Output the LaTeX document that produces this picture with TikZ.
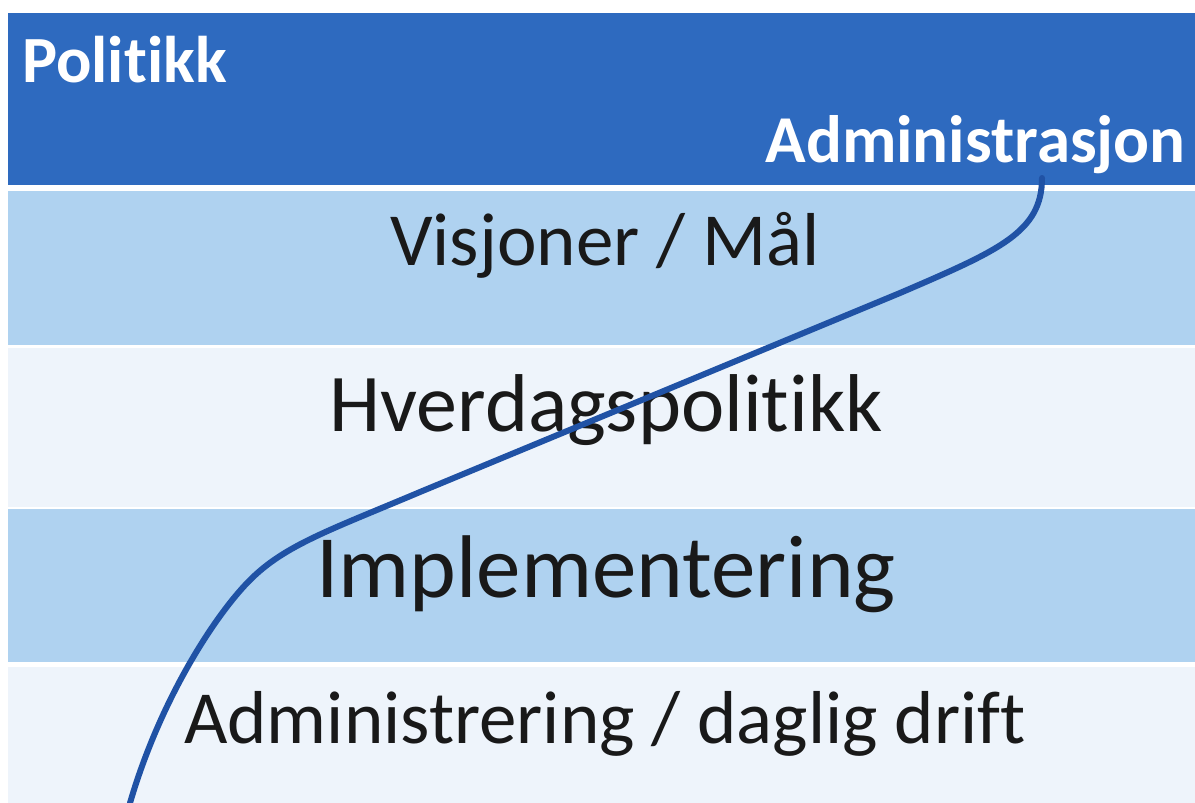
\documentclass[tikz,border=0pt]{standalone}
\usepackage{fontspec}
\setmainfont{Carlito}[Ligatures=NoCommon]
\usetikzlibrary{positioning}

\definecolor{topblue}{RGB}{46,106,191}
\definecolor{midblue}{RGB}{175,210,240}
\definecolor{paleblue}{RGB}{238,244,251}
\definecolor{curveblue}{RGB}{32,82,165}

\tikzset{
  band/.style={fill=#1, draw=none},
  head/.style={font=\fontsize{66}{70}\selectfont\bfseries, text=white, inner sep=0pt},
  level/.style={font=\fontsize{#1}{#1}\selectfont, text=black!90, inner sep=0pt, anchor=base},
}

\begin{document}
\begin{tikzpicture}[x=1pt,y=-1pt]
 \useasboundingbox[fill=white] (0,0) rectangle (1195,803);
 % bands
 \fill[band=topblue]  (8,13)  rectangle (1195,185);
 \fill[band=midblue]  (8,191) rectangle (1195,345);
 \fill[band=paleblue] (8,348) rectangle (1195,507);
 \fill[band=midblue]  (8,509) rectangle (1195,662);
 \fill[band=paleblue] (8,667) rectangle (1195,803);
 %
 \node[head, anchor=base west] (pol) at (22,82) {Politikk};
 \node[head, anchor=base east, font=\fontsize{67}{70}\selectfont\bfseries] (adm) at (1186,162) {Administrasjon};
 %
 \node[level=75] (vis) at (605,265) {Visjoner / Mål};
 \node[level=82] (hve) at (606,431) {Hverdagspolitikk};
 \node[level=89] (imp) at (606,597) {Implementering};
 \node[level=75] (dag) at (605,743) {Administrering / daglig drift};
 %
 \coordinate (c0) at (1042,178);
 \coordinate (c1) at (900,293);
 \coordinate (c2) at (420,492);
 \coordinate (c3) at (250,580);
 \coordinate (c4) at (130,803);
 \draw[curveblue, line width=6pt, line cap=round]
   (c0) .. controls (1042,232) and (1000,250) .. (c1)
   -- (c2)
   .. controls (330,530) and (285,545) .. (c3)
   .. controls (215,615) and (160,700) .. (c4);
\end{tikzpicture}
\end{document}
